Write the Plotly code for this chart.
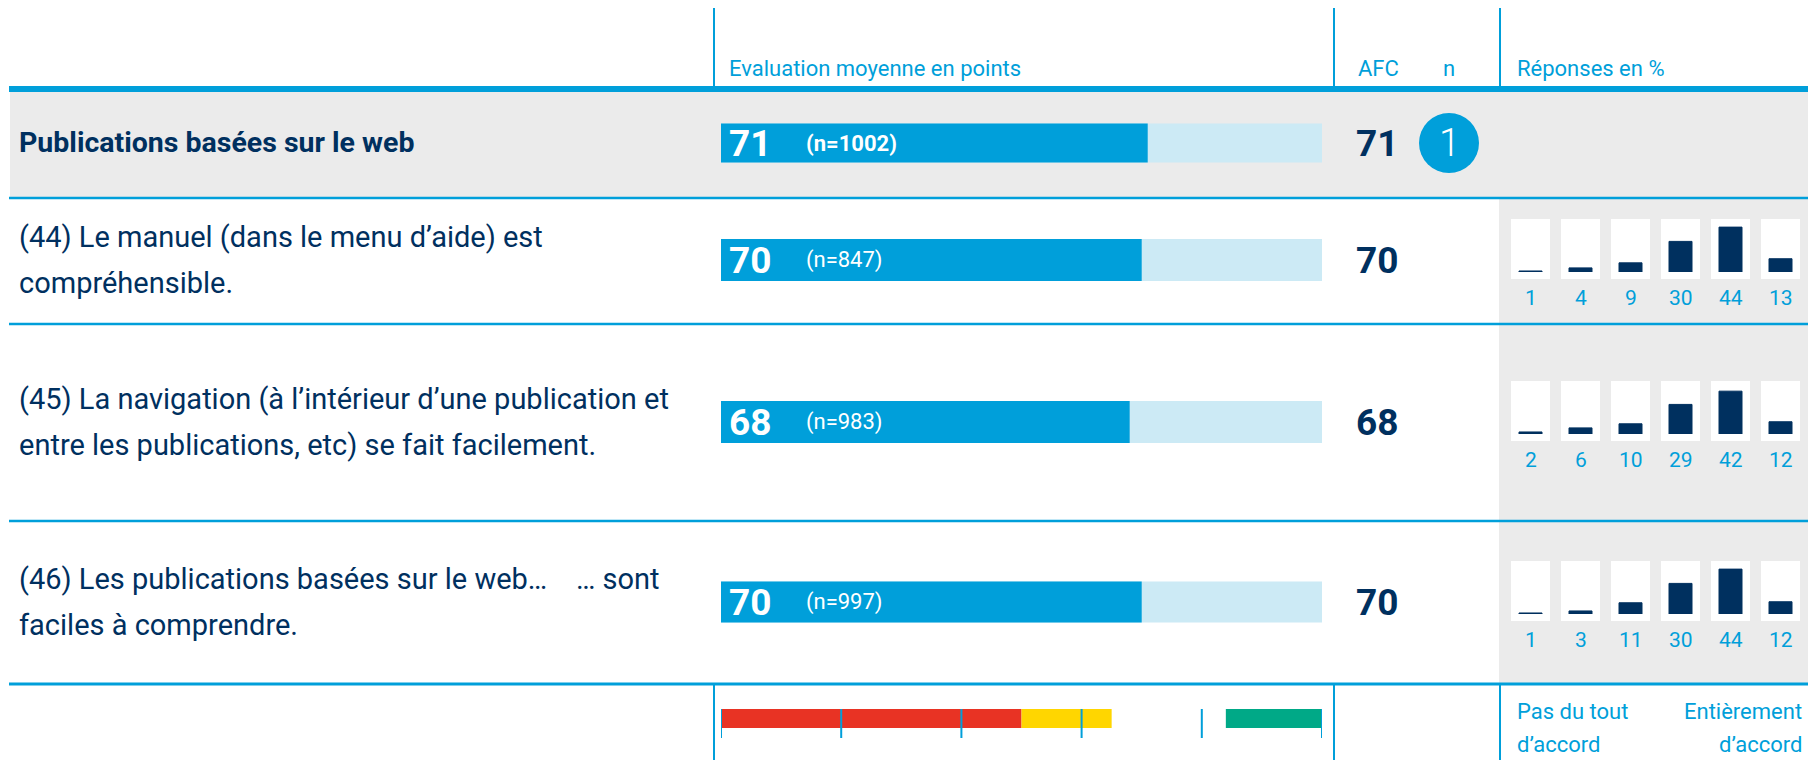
import plotly.graph_objects as go

# ---------------- data ----------------
row_labels = [
    ["Publications basées sur le web"],
    ["(44) Le manuel (dans le menu d’aide) est", "compréhensible."],
    ["(45) La navigation (à l’intérieur d’une publication et", "entre les publications, etc) se fait facilement."],
    ["(46) Les publications basées sur le web…    … sont", "faciles à comprendre."],
]
scores = [71, 70, 68, 70]
n_counts = [1002, 847, 983, 997]
afc_values = [71, 70, 68, 70]
n_marker = [1]
dist_44 = [1, 4, 9, 30, 44, 13]
dist_45 = [2, 6, 10, 29, 42, 12]
dist_46 = [1, 3, 11, 30, 44, 12]
distributions = [dist_44, dist_45, dist_46]
scale_max = [100]
legend_starts = [0, 50, 84]
legend_lengths = [50, 15, 16]
legend_ticks = [0, 20, 40, 60, 80, 100]
header_eval = "Evaluation moyenne en points"
header_afc = "AFC"
header_n = "n"
header_resp = "Réponses en %"
scale_left = ["Pas du tout", "d’accord"]
scale_right = ["Entièrement", "d’accord"]

# ---------------- style ----------------
W, H = 1816, 760
OFF = 8  # page body margin
BLUE = "#009FDA"
LIGHT = "#CCEAF5"
NAVY = "#00305F"
GRAY = "#EBEBEB"
RED = "#E83324"
YEL = "#FFD600"
GRN = "#00A987"
FONT = "Roboto"


def PX(x):
    return (x - OFF) / W


def PY(y):
    return 1 - (y - OFF) / H


row_centers = [143, 260, 422, 602]
bar_heights = [39, 42, 42, 41]
box_tops = [219, 381, 561]
box_h = 60
bar_pad = 7

fig = go.Figure()

shapes = []
annotations = []

# backgrounds
shapes.append(dict(type="rect", xref="paper", yref="paper", x0=PX(10), x1=PX(1812), y0=PY(197), y1=PY(92),
                   fillcolor=GRAY, line_width=0, layer="below"))
shapes.append(dict(type="rect", xref="paper", yref="paper", x0=PX(1499), x1=PX(1812), y0=PY(684), y1=PY(199),
                   fillcolor=GRAY, line_width=0, layer="below"))

# horizontal rules
shapes.append(dict(type="line", xref="paper", yref="paper", x0=PX(9), x1=PX(1812), y0=PY(89), y1=PY(89),
                   line=dict(color=BLUE, width=6)))
for yy in [198, 324, 521]:
    shapes.append(dict(type="line", xref="paper", yref="paper", x0=PX(9), x1=PX(1812), y0=PY(yy), y1=PY(yy),
                       line=dict(color=BLUE, width=2.5)))
shapes.append(dict(type="line", xref="paper", yref="paper", x0=PX(9), x1=PX(1812), y0=PY(684), y1=PY(684),
                   line=dict(color=BLUE, width=3)))

# vertical rules top and bottom
for xx in [714, 1334, 1500]:
    shapes.append(dict(type="line", xref="paper", yref="paper", x0=PX(xx), x1=PX(xx), y0=PY(8), y1=PY(87),
                       line=dict(color=BLUE, width=2)))
    shapes.append(dict(type="line", xref="paper", yref="paper", x0=PX(xx), x1=PX(xx), y0=PY(685), y1=PY(768),
                       line=dict(color=BLUE, width=2)))

# headers
hdr_font = dict(family=FONT, size=22, color=BLUE)
annotations.append(dict(text=header_eval, xref="paper", yref="paper", x=PX(727), y=PY(69), xanchor="left",
                        yanchor="middle", showarrow=False, font=hdr_font))
annotations.append(dict(text=header_afc, xref="paper", yref="paper", x=PX(1356), y=PY(69), xanchor="left",
                        yanchor="middle", showarrow=False, font=hdr_font))
annotations.append(dict(text=header_n, xref="paper", yref="paper", x=PX(1449), y=PY(69), xanchor="center",
                        yanchor="middle", showarrow=False, font=hdr_font))
annotations.append(dict(text=header_resp, xref="paper", yref="paper", x=PX(1515), y=PY(69), xanchor="left",
                        yanchor="middle", showarrow=False, font=hdr_font))

# row labels
for i, lines in enumerate(row_labels):
    if len(lines) == 1:
        annotations.append(dict(text="<b>" + lines[0] + "</b>", xref="paper", yref="paper", x=PX(17),
                                y=PY(row_centers[i]), xanchor="left", yanchor="middle", showarrow=False,
                                font=dict(family=FONT, size=28.5, color=NAVY)))
    else:
        for j, ln in enumerate(lines):
            annotations.append(dict(text=ln, xref="paper", yref="paper", x=PX(17),
                                    y=PY(row_centers[i] - 23 + 46 * j), xanchor="left", yanchor="middle",
                                    showarrow=False, font=dict(family=FONT, size=29, color=NAVY)))

# main bars: background and values
fig.add_trace(go.Bar(y=row_centers, x=scale_max * len(scores), orientation="h", width=bar_heights,
                     marker=dict(color=LIGHT, line_width=0), xaxis="x", yaxis="y", hoverinfo="skip",
                     showlegend=False))
fig.add_trace(go.Bar(y=row_centers, x=scores, orientation="h", width=bar_heights,
                     marker=dict(color=BLUE, line_width=0), xaxis="x", yaxis="y", showlegend=False))

for i, (s, n) in enumerate(zip(scores, n_counts)):
    annotations.append(dict(text="<b>%d</b>" % s, xref="paper", yref="y", x=PX(727), y=row_centers[i],
                            xanchor="left", yanchor="middle", showarrow=False,
                            font=dict(family=FONT, size=37, color="white")))
    ntxt = "(n=%d)" % n
    if i == 0:
        ntxt = "<b>" + ntxt + "</b>"
    annotations.append(dict(text=ntxt, xref="paper", yref="y", x=PX(804), y=row_centers[i],
                            xanchor="left", yanchor="middle", showarrow=False,
                            font=dict(family=FONT, size=22, color="white")))

# AFC values
for i, a in enumerate(afc_values):
    annotations.append(dict(text="<b>%d</b>" % a, xref="paper", yref="y", x=PX(1354), y=row_centers[i],
                            xanchor="left", yanchor="middle", showarrow=False,
                            font=dict(family=FONT, size=37, color=NAVY)))

# n marker circle
shapes.append(dict(type="circle", xref="paper", yref="paper", x0=PX(1419), x1=PX(1479), y0=PY(173), y1=PY(113),
                   fillcolor=BLUE, line_width=0))
annotations.append(dict(text=str(n_marker[0]), xref="paper", yref="paper", x=PX(1449), y=PY(143),
                        xanchor="center", yanchor="middle", showarrow=False,
                        font=dict(family=FONT, size=38, color="white", weight=300)))

# legend scale bar
fig.add_trace(go.Bar(y=[718.5] * 3, x=legend_lengths, base=legend_starts, orientation="h", width=19,
                     marker=dict(color=[RED, YEL, GRN], line_width=0), xaxis="x", yaxis="y",
                     hoverinfo="skip", showlegend=False))
for t in legend_ticks:
    shapes.append(dict(type="line", xref="x", yref="y", x0=t, x1=t, y0=709, y1=738,
                       line=dict(color=BLUE, width=2)))

# mini distribution charts
cats = list(range(6))
for r, dist in enumerate(distributions):
    ya = "y%d" % (r + 2)
    top = box_tops[r]
    for c in cats:
        shapes.append(dict(type="rect", xref="x2", yref="paper", x0=c - 0.39, x1=c + 0.39,
                           y0=PY(top + box_h), y1=PY(top), fillcolor="white", line_width=0, layer="below"))
    fig.add_trace(go.Bar(x=cats, y=dist, width=0.46, xaxis="x2", yaxis=ya,
                         marker=dict(color=NAVY, line=dict(color=NAVY, width=1)), showlegend=False))
    for c, v in zip(cats, dist):
        annotations.append(dict(text=str(v), xref="x2", yref="paper", x=c, y=PY(top + box_h + 19),
                                xanchor="center", yanchor="middle", showarrow=False,
                                font=dict(family=FONT, size=21, color=BLUE)))

# scale end labels
for j, ln in enumerate(scale_left):
    annotations.append(dict(text=ln, xref="paper", yref="paper", x=PX(1515), y=PY(711 + 33 * j),
                            xanchor="left", yanchor="middle", showarrow=False, font=hdr_font))
for j, ln in enumerate(scale_right):
    annotations.append(dict(text=ln, xref="paper", yref="paper", x=PX(1804), y=PY(711 + 33 * j),
                            xanchor="right", yanchor="middle", showarrow=False, font=hdr_font))

ax_off = dict(visible=False, showgrid=False, zeroline=False, fixedrange=True)
layout = dict(
    width=W, height=H, margin=dict(l=0, r=0, t=0, b=0),
    paper_bgcolor="white", plot_bgcolor="rgba(0,0,0,0)",
    barmode="overlay", showlegend=False,
    xaxis=dict(domain=[PX(721), PX(1322)], range=[0, 100], anchor="y", **ax_off),
    yaxis=dict(domain=[0, 1], range=[H + OFF, OFF], anchor="x", **ax_off),
    xaxis2=dict(domain=[PX(1505.5), PX(1805.5)], range=[-0.5, 5.5], anchor="y2", **ax_off),
    shapes=shapes, annotations=annotations,
)
for r in range(3):
    top = box_tops[r]
    bottom = top + box_h - bar_pad
    layout["yaxis%d" % (r + 2)] = dict(domain=[PY(bottom), PY(top)], range=[0, (bottom - top) / 1.02],
                                        anchor="x2", **ax_off)
fig.update_layout(**layout)
fig.write_html("out.html")
